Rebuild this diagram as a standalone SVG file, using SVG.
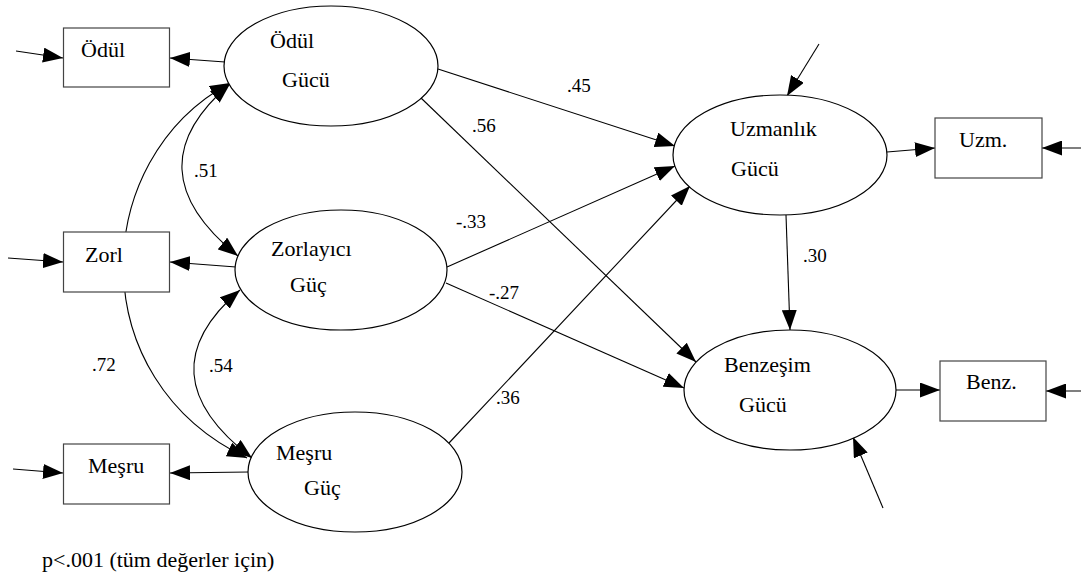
<svg xmlns="http://www.w3.org/2000/svg" width="1081" height="577" viewBox="0 0 1081 577">
<style>
text{font-family:"Liberation Serif","DejaVu Serif","Times New Roman",serif;fill:#000}
.t{font-size:22px}
.c{font-size:19px}
.box{fill:#fff;stroke:#444;stroke-width:1.2}
.ell{fill:#fff;stroke:#000;stroke-width:1.2}
.ln{fill:none;stroke:#000;stroke-width:1.1}
</style>
<defs>
<marker id="ah" viewBox="0 0 20 15" markerWidth="20" markerHeight="15" refX="20" refY="7.5" orient="auto-start-reverse" markerUnits="userSpaceOnUse">
<path d="M0,0 L20,7.5 L0,15 z" fill="#000"/>
</marker>
</defs>
<rect width="1081" height="577" fill="#fff"/>
<g id="connectors" class="ln">
<line x1="16" y1="51" x2="63" y2="58" marker-end="url(#ah)"/>
<line x1="8" y1="258" x2="63" y2="262" marker-end="url(#ah)"/>
<line x1="13" y1="469" x2="63" y2="473" marker-end="url(#ah)"/>
<line x1="225" y1="62" x2="170" y2="58" marker-end="url(#ah)"/>
<line x1="236" y1="267" x2="170" y2="262" marker-end="url(#ah)"/>
<line x1="249" y1="472" x2="170" y2="473" marker-end="url(#ah)"/>
<line x1="1081" y1="148" x2="1042" y2="148" marker-end="url(#ah)"/>
<line x1="1081" y1="391" x2="1046" y2="391" marker-end="url(#ah)"/>
<line x1="887" y1="152" x2="935" y2="148" marker-end="url(#ah)"/>
<line x1="896" y1="390" x2="940" y2="390" marker-end="url(#ah)"/>
<line x1="819" y1="44" x2="787" y2="96" marker-end="url(#ah)"/>
<line x1="883" y1="508" x2="853" y2="437" marker-end="url(#ah)"/>
<line x1="786" y1="215" x2="790" y2="330" marker-end="url(#ah)"/>
<line x1="438" y1="69" x2="675" y2="146" marker-end="url(#ah)"/>
<line x1="421" y1="98" x2="696" y2="362" marker-end="url(#ah)"/>
<line x1="447" y1="267" x2="675" y2="166" marker-end="url(#ah)"/>
<line x1="446" y1="283" x2="684" y2="388" marker-end="url(#ah)"/>
<line x1="449" y1="443" x2="690" y2="186" marker-end="url(#ah)"/>
<path d="M230,84 Q130,169 238,256" marker-start="url(#ah)" marker-end="url(#ah)"/>
<path d="M240,290 Q142,374 252,458" marker-start="url(#ah)" marker-end="url(#ah)"/>
<path d="M230,83 C88,160 82,380 247,458" marker-start="url(#ah)" marker-end="url(#ah)"/>
</g>
<g id="box-odul"><rect class="box" x="63.5" y="28" width="106" height="59"/><text class="t" x="81" y="57">Ödül</text></g>
<g id="box-zorl"><rect class="box" x="63.5" y="232" width="106" height="60"/><text class="t" x="85" y="262">Zorl</text></g>
<g id="box-mesru"><rect class="box" x="63.5" y="444" width="106" height="60"/><text class="t" x="88" y="473">Meşru</text></g>
<g id="box-uzm"><rect class="box" x="935" y="118" width="107" height="60"/><text class="t" x="959" y="147">Uzm.</text></g>
<g id="box-benz"><rect class="box" x="940" y="361" width="106" height="60"/><text class="t" x="966" y="389">Benz.</text></g>
<g id="odul-gucu"><ellipse class="ell" cx="331" cy="66" rx="107" ry="60"/><text class="t" x="270" y="48">Ödül</text><text class="t" x="282" y="87">Gücü</text></g>
<g id="zorlayici-guc"><ellipse class="ell" cx="341" cy="270" rx="106" ry="60"/><text class="t" x="271" y="256">Zorlayıcı</text><text class="t" x="290" y="292">Güç</text></g>
<g id="mesru-guc"><ellipse class="ell" cx="355" cy="472" rx="107" ry="60"/><text class="t" x="276" y="460">Meşru</text><text class="t" x="304" y="495">Güç</text></g>
<g id="uzmanlik-gucu"><ellipse class="ell" cx="780" cy="155" rx="107" ry="60"/><text class="t" x="730" y="136">Uzmanlık</text><text class="t" x="731" y="176">Gücü</text></g>
<g id="benzesim-gucu"><ellipse class="ell" cx="790" cy="390" rx="106" ry="60"/><text class="t" x="724" y="372">Benzeşim</text><text class="t" x="739" y="412">Gücü</text></g>
<g id="labels">
<text class="c" x="567" y="92">.45</text>
<text class="c" x="472" y="132">.56</text>
<text class="c" x="456" y="228">-.33</text>
<text class="c" x="803" y="262">.30</text>
<text class="c" x="489" y="299">-.27</text>
<text class="c" x="496" y="404">.36</text>
<text class="c" x="194" y="177">.51</text>
<text class="c" x="92" y="371">.72</text>
<text class="c" x="209" y="372">.54</text>
<text class="t" x="42" y="567">p&lt;.001 (tüm değerler için)</text>
</g>
</svg>
